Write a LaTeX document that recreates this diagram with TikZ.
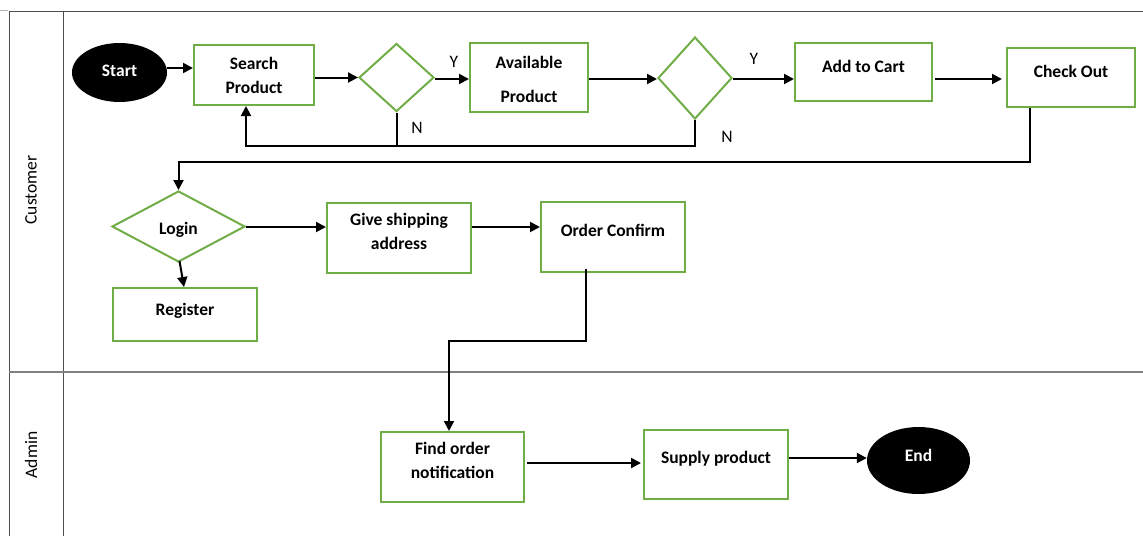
\documentclass[tikz,border=0pt]{standalone}
\usepackage{fontspec}
\setmainfont{Carlito}
\usetikzlibrary{shapes.geometric,arrows.meta}
\definecolor{boxgreen}{HTML}{70AD47}
\definecolor{laneline}{HTML}{4D4D4D}
\tikzset{
  stepbox/.style={draw=boxgreen, line width=2pt, fill=white, rectangle, inner sep=0pt},
  decision/.style={draw=boxgreen, line width=2pt, fill=white, diamond, inner sep=0pt},
  terminal/.style={fill=black, ellipse, inner sep=0pt},
  txt/.style={font=\fontsize{17.5}{24}\selectfont\bfseries, align=center, inner sep=0pt, text height=11pt, text depth=3pt, yshift=-2pt},
  txttwo/.style={font=\fontsize{17.5}{24}\selectfont\bfseries, align=center, inner sep=0pt, yshift=1pt},
  tag/.style={font=\fontsize{17.5}{20}\selectfont, inner sep=0pt},
  arr/.style={line width=2pt, -{Triangle[length=10pt,width=10pt]}},
  link/.style={line width=2pt},
  lane/.style={draw=laneline, line width=1pt}
}
\begin{document}
\begin{tikzpicture}[x=1pt,y=-1pt]
\useasboundingbox (0,0) rectangle (1143,536);

% swimlane frame
\draw[lane] (9,11) -- (1143,11);
\draw[lane] (9,11) -- (9,536);
\draw[lane] (63,11) -- (63,536);
\draw[lane, draw=gray, line width=1.3pt] (9,372) -- (1143,372);
\draw[draw=gray!60, line width=0.6pt] (0,10) -- (8,10);
\node[tag, rotate=90] (laneC) at (31,190) {Customer};
\node[tag, rotate=90] (laneA) at (31,455) {Admin};

% customer lane
\node[terminal, minimum width=95pt, minimum height=59pt] (start) at (119.5,72.5) {};
\node[txt, text=white] (startT) at (119.5,70) {Start};

\node[stepbox, minimum width=120pt, minimum height=60pt] (sp) at (254,75) {};
\node[txttwo] (spT) at (254,76) {Search\\Product};

\node[decision, minimum width=75pt, minimum height=68pt] (d1) at (396.5,77.5) {};

\node[stepbox, minimum width=118pt, minimum height=69pt] (av) at (529,77.5) {};
\node[txttwo, font=\fontsize{17.5}{34}\selectfont\bfseries] (avT) at (529,80) {Available\\Product};

\node[decision, minimum width=74pt, minimum height=82pt] (d2) at (695,78) {};

\node[stepbox, minimum width=137pt, minimum height=58pt] (ac) at (863.5,72) {};
\node[txt] (acT) at (863.5,66) {Add to Cart};

\node[stepbox, minimum width=128pt, minimum height=59pt] (co) at (1071,77.5) {};
\node[txt] (coT) at (1071,71) {Check Out};

\node[decision, minimum width=133pt, minimum height=71pt] (login) at (178.5,226.5) {};
\node[txt] (loginT) at (178.5,228) {Login};

\node[stepbox, minimum width=144pt, minimum height=53pt] (reg) at (185,314.5) {};
\node[txt] (regT) at (185,309) {Register};

\node[stepbox, minimum width=144pt, minimum height=70pt] (ship) at (399,238) {};
\node[txttwo] (shipT) at (399,232) {Give shipping\\address};

\node[stepbox, minimum width=144pt, minimum height=70pt] (oc) at (613,237) {};
\node[txt] (ocT) at (613,230) {Order Confirm};

% admin lane
\node[stepbox, minimum width=143pt, minimum height=70pt] (find) at (452.5,467) {};
\node[txttwo] (findT) at (452.5,461) {Find order\\notification};

\node[stepbox, minimum width=144pt, minimum height=69pt] (sup) at (716,464.5) {};
\node[txt] (supT) at (716,457) {Supply product};

\node[terminal, minimum width=103pt, minimum height=67pt] (end) at (918.5,460.5) {};
\node[txt, text=white] (endT) at (918.5,455) {End};

% branch tags
\node[tag] (y1) at (454,62) {Y};
\node[tag] (y2) at (754,59) {Y};
\node[tag] (n1) at (417,128) {N};
\node[tag] (n2) at (727,137) {N};

% helper points for the elbow connectors
\coordinate (ret) at (246,146);
\coordinate (cb) at (1030,162);
\coordinate (ob) at (586,341);
\coordinate (oa) at (449,341);
\coordinate (row1) at (0,79);
\coordinate (row2) at (0,227);
\coordinate (rowA) at (0,463);
\coordinate (rowB) at (0,458);

% connectors
\draw[arr] (start.east |- 0,68) -- (sp.west |- 0,68);
\draw[arr] (sp.east |- d1.west) -- (d1.west);
\draw[arr] (d1.east |- row1) -- (av.west |- row1);
\draw[arr] (av.east |- row1) -- (d2.west |- row1);
\draw[arr] (d2.east |- row1) -- (ac.west |- row1);
\draw[arr] ([xshift=2pt]ac.east |- row1) -- ([xshift=-4pt]co.west |- row1);

\draw[link] (d1.south) -- (d1.south |- ret);
\draw[arr] (d2.south) -- (d2.south |- ret) -- (ret) -- (ret |- sp.south);

\draw[arr] (cb |- co.south) -- (cb) -- (cb -| login.north) -- (login.north);

\draw[arr] ([xshift=1pt,yshift=2pt]login.south) -- ([xshift=-1pt]reg.north);
\draw[arr] (login.east |- row2) -- (ship.west |- row2);
\draw[arr] (ship.east |- row2) -- (oc.west |- row2);

\draw[arr] ([yshift=4pt]ob |- oc.south) -- (ob) -- (oa) -- (oa |- find.north);

\draw[arr] ([xshift=2pt]find.east |- rowA) -- ([xshift=-2pt]sup.west |- rowA);
\draw[arr] (sup.east |- rowB) -- (end.west |- rowB);
\end{tikzpicture}
\end{document}
